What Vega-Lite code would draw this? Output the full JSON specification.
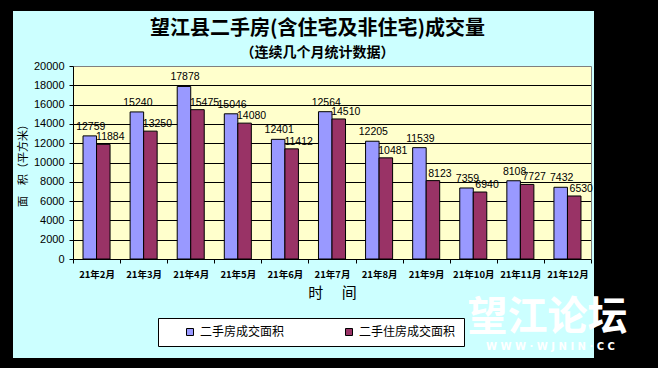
{
  "$schema": "https://vega.github.io/schema/vega-lite/v6.json",
  "width": 581,
  "height": 347,
  "autosize": {"type": "none"},
  "padding": {"left": 13, "top": 11, "right": 64, "bottom": 10},
  "background": "black",
  "config": {
    "view": {"fill": "#CCFFFF", "stroke": null}
  },
  "title": {
    "text": "望江县二手房(含住宅及非住宅)成交量",
    "subtitle": "（连续几个月统计数据）",
    "font": "Noto Sans CJK SC",
    "fontSize": 20,
    "fontWeight": "bold",
    "color": "black",
    "subtitleFont": "Noto Sans CJK SC",
    "subtitleFontSize": 14,
    "subtitleFontWeight": "bold",
    "subtitleColor": "black",
    "subtitlePadding": 7,
    "anchor": "middle",
    "frame": "group",
    "offset": -49,
    "dx": 14
  },
  "data": {
    "values": [
      {"month": "21年2月", "series": "二手房成交面积", "value": 12759, "label": "12759"},
      {"month": "21年2月", "series": "二手住房成交面积", "value": 11884, "label": "11884"},
      {"month": "21年3月", "series": "二手房成交面积", "value": 15240, "label": "15240"},
      {"month": "21年3月", "series": "二手住房成交面积", "value": 13250, "label": "13250"},
      {"month": "21年4月", "series": "二手房成交面积", "value": 17878, "label": "17878"},
      {"month": "21年4月", "series": "二手住房成交面积", "value": 15475, "label": "15475"},
      {"month": "21年5月", "series": "二手房成交面积", "value": 15046, "label": "15046"},
      {"month": "21年5月", "series": "二手住房成交面积", "value": 14080, "label": "14080"},
      {"month": "21年6月", "series": "二手房成交面积", "value": 12401, "label": "12401"},
      {"month": "21年6月", "series": "二手住房成交面积", "value": 11412, "label": "11412"},
      {"month": "21年7月", "series": "二手房成交面积", "value": 15264, "label": "12564"},
      {"month": "21年7月", "series": "二手住房成交面积", "value": 14510, "label": "14510"},
      {"month": "21年8月", "series": "二手房成交面积", "value": 12205, "label": "12205"},
      {"month": "21年8月", "series": "二手住房成交面积", "value": 10481, "label": "10481"},
      {"month": "21年9月", "series": "二手房成交面积", "value": 11539, "label": "11539"},
      {"month": "21年9月", "series": "二手住房成交面积", "value": 8123, "label": "8123"},
      {"month": "21年10月", "series": "二手房成交面积", "value": 7359, "label": "7359"},
      {"month": "21年10月", "series": "二手住房成交面积", "value": 6940, "label": "6940"},
      {"month": "21年11月", "series": "二手房成交面积", "value": 8108, "label": "8108"},
      {"month": "21年11月", "series": "二手住房成交面积", "value": 7727, "label": "7727"},
      {"month": "21年12月", "series": "二手房成交面积", "value": 7432, "label": "7432"},
      {"month": "21年12月", "series": "二手住房成交面积", "value": 6530, "label": "6530"}
    ]
  },
  "encoding": {
    "x": {
      "field": "month",
      "type": "nominal",
      "sort": ["21年2月", "21年3月", "21年4月", "21年5月", "21年6月", "21年7月", "21年8月", "21年9月", "21年10月", "21年11月", "21年12月"],
      "scale": {"range": [60, 578], "paddingInner": 0, "paddingOuter": 0},
      "axis": {
        "orient": "bottom",
        "offset": -99,
        "title": "时　 间",
        "titleFont": "Noto Sans CJK SC",
        "titleFontSize": 15,
        "titleFontWeight": "normal",
        "titleColor": "black",
        "titlePadding": 7,
        "labelAngle": 0,
        "labelFont": "Noto Sans CJK SC",
        "labelFontSize": 9.5,
        "labelFontWeight": "bold",
        "labelColor": "black",
        "labelPadding": 6,
        "tickBand": "extent",
        "ticks": true,
        "tickSize": 4,
        "tickColor": "black",
        "domainColor": "black",
        "domainWidth": 1,
        "grid": false
      }
    }
  },
  "layer": [
    {
      "mark": {"type": "bar", "stroke": "black", "strokeWidth": 1},
      "encoding": {
        "y": {
          "field": "value",
          "type": "quantitative",
          "scale": {"domain": [0, 20000], "range": [248, 55], "nice": false, "zero": true},
          "axis": {"values": [10000], "grid": true, "gridColor": "#FFFFCC", "gridWidth": 193, "gridOpacity": 1, "labels": false, "ticks": false, "domain": false, "title": null, "offset": -60}
        },
        "xOffset": {
          "field": "series",
          "type": "nominal",
          "sort": ["二手房成交面积", "二手住房成交面积"],
          "scale": {"paddingInner": 0, "paddingOuter": 0.742}
        },
        "color": {
          "field": "series",
          "type": "nominal",
          "sort": ["二手房成交面积", "二手住房成交面积"],
          "scale": {"domain": ["二手房成交面积", "二手住房成交面积"], "range": ["#9999FF", "#993366"]},
          "legend": {
            "orient": "none",
            "legendX": 145,
            "legendY": 307,
            "direction": "horizontal",
            "title": null,
            "fillColor": "white",
            "strokeColor": "black",
            "padding": 8,
            "symbolType": "square",
            "symbolSize": 49,
            "symbolStrokeColor": "black",
            "symbolStrokeWidth": 1,
            "symbolOffset": 18,
            "labelFont": "Noto Sans CJK SC",
            "labelFontSize": 12,
            "labelColor": "black",
            "labelOffset": 4,
            "columnPadding": 40,
            "labelLimit": 300,
            "labelExpr": "datum.label + '　'"
          }
        }
      }
    },
    {
      "transform": [{"filter": "datum.series === '二手房成交面积'"}],
      "mark": {"type": "text", "font": "Liberation Sans", "fontSize": 10.5, "baseline": "bottom", "dy": -4, "dx": 1, "color": "black"},
      "encoding": {
        "y": {
          "field": "value",
          "type": "quantitative",
          "axis": {
            "orient": "left",
            "offset": -60,
            "values": [0, 2000, 4000, 6000, 8000, 10000, 12000, 14000, 16000, 18000, 20000],
            "format": "d",
            "grid": true,
            "gridColor": {"condition": {"test": "datum.value === 20000", "value": "#808080"}, "value": "black"},
            "gridWidth": 1,
            "gridOpacity": 1,
            "domain": true,
            "domainColor": "black",
            "ticks": true,
            "tickSize": 4,
            "tickColor": "black",
            "labelFont": "Liberation Sans",
            "labelFontSize": 11,
            "labelColor": "black",
            "labelPadding": 5,
            "title": "面　积（平方米）",
            "titleFont": "Noto Sans CJK SC",
            "titleFontSize": 11,
            "titleFontWeight": "normal",
            "titleColor": "black",
            "titlePadding": 5
          }
        },
        "xOffset": {"field": "series", "type": "nominal", "sort": ["二手房成交面积", "二手住房成交面积"]},
        "text": {"field": "label"}
      }
    },
    {
      "transform": [{"filter": "datum.series === '二手住房成交面积'"}],
      "mark": {"type": "text", "font": "Liberation Sans", "fontSize": 10.5, "baseline": "bottom", "dy": -2, "dx": 7, "color": "black"},
      "encoding": {
        "y": {
          "field": "value",
          "type": "quantitative",
          "axis": {"orient": "right", "offset": -3, "domain": true, "domainColor": "#808080", "ticks": false, "labels": false, "grid": false, "title": null}
        },
        "xOffset": {"field": "series", "type": "nominal", "sort": ["二手房成交面积", "二手住房成交面积"]},
        "text": {"field": "label"}
      }
    },
    {
      "data": {"values": [{"wm": "望江论坛"}]},
      "mark": {"type": "text", "font": "Noto Sans CJK SC", "fontSize": 40, "fontWeight": "bold", "color": "white", "dx": -20, "baseline": "middle", "align": "center"},
      "encoding": {
        "x": {"datum": "21年12月", "type": "nominal"},
        "y": {"datum": -6100, "type": "quantitative", "axis": null},
        "text": {"field": "wm"}
      }
    },
    {
      "data": {"values": [{"wm": "W W W · W J N I N · C C"}]},
      "mark": {"type": "text", "font": "DejaVu Sans", "fontSize": 10, "fontWeight": "bold", "color": "white", "dx": -17, "baseline": "middle", "align": "center"},
      "encoding": {
        "x": {"datum": "21年12月", "type": "nominal"},
        "y": {"datum": -9100, "type": "quantitative", "axis": null},
        "text": {"field": "wm"}
      }
    }
  ],
  "resolve": {"axis": {"y": "independent"}}
}
